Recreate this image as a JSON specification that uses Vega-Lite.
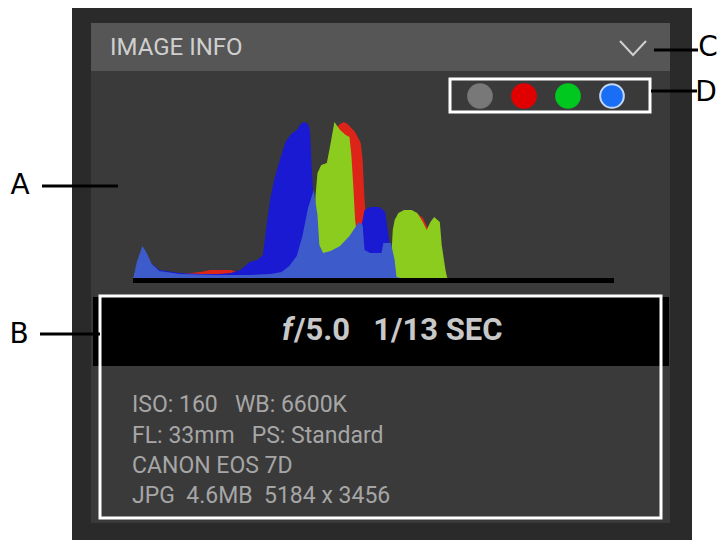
{
  "$schema": "https://vega.github.io/schema/vega-lite/v6.json",
  "width": 720,
  "height": 540,
  "autosize": "none",
  "padding": 0,
  "background": "#ffffff",
  "config": {"view": {"stroke": null}},
  "datasets": {
    "panels": [
      {"part": "outer", "x": 72, "x2": 692, "y": 8, "y2": 540},
      {"part": "inner", "x": 91, "x2": 670, "y": 23, "y2": 523},
      {"part": "header", "x": 91, "x2": 670, "y": 23, "y2": 71},
      {"part": "exposure", "x": 93, "x2": 669, "y": 297, "y2": 366}
    ],
    "frames": [
      {"callout": "B", "x": 100, "x2": 661, "y": 296, "y2": 518},
      {"callout": "D", "x": 450, "x2": 650, "y": 79, "y2": 112}
    ],
    "histogram": [
      {"channel": "red", "level": 0, "count": 0}, {"channel": "red", "level": 2, "count": 15}, {"channel": "red", "level": 5, "count": 30}, {"channel": "red", "level": 10, "count": 14}, {"channel": "red", "level": 14, "count": 7}, {"channel": "red", "level": 25, "count": 6}, {"channel": "red", "level": 36, "count": 8}, {"channel": "red", "level": 41, "count": 10}, {"channel": "red", "level": 52, "count": 10}, {"channel": "red", "level": 55, "count": 8}, {"channel": "red", "level": 60, "count": 5}, {"channel": "red", "level": 66, "count": 8}, {"channel": "red", "level": 89, "count": 6}, {"channel": "red", "level": 94, "count": 10}, {"channel": "red", "level": 98, "count": 30}, {"channel": "red", "level": 100, "count": 80}, {"channel": "red", "level": 103, "count": 118}, {"channel": "red", "level": 105, "count": 132}, {"channel": "red", "level": 107, "count": 150}, {"channel": "red", "level": 110, "count": 156}, {"channel": "red", "level": 112, "count": 158}, {"channel": "red", "level": 114, "count": 156}, {"channel": "red", "level": 116, "count": 152}, {"channel": "red", "level": 118, "count": 148}, {"channel": "red", "level": 121, "count": 137}, {"channel": "red", "level": 122, "count": 120}, {"channel": "red", "level": 123, "count": 80}, {"channel": "red", "level": 124, "count": 58}, {"channel": "red", "level": 129, "count": 57}, {"channel": "red", "level": 131, "count": 55}, {"channel": "red", "level": 133, "count": 35}, {"channel": "red", "level": 139, "count": 30}, {"channel": "red", "level": 142, "count": 40}, {"channel": "red", "level": 147, "count": 65}, {"channel": "red", "level": 150, "count": 68}, {"channel": "red", "level": 154, "count": 62}, {"channel": "red", "level": 156, "count": 54}, {"channel": "red", "level": 159, "count": 45}, {"channel": "red", "level": 163, "count": 30}, {"channel": "red", "level": 166, "count": 5}, {"channel": "red", "level": 168, "count": 0}, {"channel": "red", "level": 255, "count": 0},
      {"channel": "blue", "level": 0, "count": 0}, {"channel": "blue", "level": 2, "count": 16}, {"channel": "blue", "level": 5, "count": 31}, {"channel": "blue", "level": 9, "count": 18}, {"channel": "blue", "level": 14, "count": 10}, {"channel": "blue", "level": 25, "count": 7}, {"channel": "blue", "level": 36, "count": 6}, {"channel": "blue", "level": 46, "count": 6}, {"channel": "blue", "level": 52, "count": 7}, {"channel": "blue", "level": 57, "count": 10}, {"channel": "blue", "level": 62, "count": 18}, {"channel": "blue", "level": 66, "count": 20}, {"channel": "blue", "level": 69, "count": 25}, {"channel": "blue", "level": 71, "count": 55}, {"channel": "blue", "level": 73, "count": 82}, {"channel": "blue", "level": 75, "count": 100}, {"channel": "blue", "level": 78, "count": 120}, {"channel": "blue", "level": 81, "count": 138}, {"channel": "blue", "level": 84, "count": 146}, {"channel": "blue", "level": 87, "count": 150}, {"channel": "blue", "level": 89, "count": 156}, {"channel": "blue", "level": 91, "count": 158}, {"channel": "blue", "level": 93, "count": 156}, {"channel": "blue", "level": 94, "count": 150}, {"channel": "blue", "level": 95, "count": 110}, {"channel": "blue", "level": 96, "count": 80}, {"channel": "blue", "level": 97, "count": 30}, {"channel": "blue", "level": 99, "count": 10}, {"channel": "blue", "level": 105, "count": 12}, {"channel": "blue", "level": 110, "count": 15}, {"channel": "blue", "level": 115, "count": 22}, {"channel": "blue", "level": 118, "count": 30}, {"channel": "blue", "level": 121, "count": 50}, {"channel": "blue", "level": 123, "count": 70}, {"channel": "blue", "level": 126, "count": 73}, {"channel": "blue", "level": 131, "count": 73}, {"channel": "blue", "level": 134, "count": 68}, {"channel": "blue", "level": 136, "count": 40}, {"channel": "blue", "level": 138, "count": 10}, {"channel": "blue", "level": 140, "count": 2}, {"channel": "blue", "level": 142, "count": 1}, {"channel": "blue", "level": 255, "count": 1},
      {"channel": "green", "level": 0, "count": 0}, {"channel": "green", "level": 2, "count": 14}, {"channel": "green", "level": 5, "count": 28}, {"channel": "green", "level": 10, "count": 12}, {"channel": "green", "level": 14, "count": 6}, {"channel": "green", "level": 46, "count": 3}, {"channel": "green", "level": 90, "count": 3}, {"channel": "green", "level": 94, "count": 5}, {"channel": "green", "level": 96, "count": 40}, {"channel": "green", "level": 97, "count": 85}, {"channel": "green", "level": 98, "count": 107}, {"channel": "green", "level": 100, "count": 115}, {"channel": "green", "level": 103, "count": 117}, {"channel": "green", "level": 105, "count": 137}, {"channel": "green", "level": 107, "count": 158}, {"channel": "green", "level": 110, "count": 150}, {"channel": "green", "level": 113, "count": 145}, {"channel": "green", "level": 115, "count": 143}, {"channel": "green", "level": 116, "count": 125}, {"channel": "green", "level": 117, "count": 95}, {"channel": "green", "level": 118, "count": 60}, {"channel": "green", "level": 120, "count": 30}, {"channel": "green", "level": 122, "count": 18}, {"channel": "green", "level": 126, "count": 15}, {"channel": "green", "level": 132, "count": 12}, {"channel": "green", "level": 137, "count": 15}, {"channel": "green", "level": 138, "count": 50}, {"channel": "green", "level": 139, "count": 60}, {"channel": "green", "level": 141, "count": 67}, {"channel": "green", "level": 144, "count": 70}, {"channel": "green", "level": 148, "count": 70}, {"channel": "green", "level": 151, "count": 67}, {"channel": "green", "level": 154, "count": 58}, {"channel": "green", "level": 156, "count": 50}, {"channel": "green", "level": 158, "count": 58}, {"channel": "green", "level": 160, "count": 63}, {"channel": "green", "level": 163, "count": 58}, {"channel": "green", "level": 164, "count": 35}, {"channel": "green", "level": 166, "count": 10}, {"channel": "green", "level": 167, "count": 1}, {"channel": "green", "level": 168, "count": 0}, {"channel": "green", "level": 255, "count": 0},
      {"channel": "luminance", "level": 0, "count": 0}, {"channel": "luminance", "level": 2, "count": 18}, {"channel": "luminance", "level": 5, "count": 34}, {"channel": "luminance", "level": 7, "count": 28}, {"channel": "luminance", "level": 10, "count": 16}, {"channel": "luminance", "level": 14, "count": 9}, {"channel": "luminance", "level": 25, "count": 6}, {"channel": "luminance", "level": 46, "count": 5}, {"channel": "luminance", "level": 62, "count": 5}, {"channel": "luminance", "level": 73, "count": 6}, {"channel": "luminance", "level": 79, "count": 8}, {"channel": "luminance", "level": 83, "count": 14}, {"channel": "luminance", "level": 87, "count": 24}, {"channel": "luminance", "level": 90, "count": 44}, {"channel": "luminance", "level": 93, "count": 72}, {"channel": "luminance", "level": 96, "count": 90}, {"channel": "luminance", "level": 98, "count": 65}, {"channel": "luminance", "level": 99, "count": 35}, {"channel": "luminance", "level": 101, "count": 27}, {"channel": "luminance", "level": 105, "count": 29}, {"channel": "luminance", "level": 110, "count": 34}, {"channel": "luminance", "level": 115, "count": 44}, {"channel": "luminance", "level": 120, "count": 58}, {"channel": "luminance", "level": 122, "count": 55}, {"channel": "luminance", "level": 123, "count": 30}, {"channel": "luminance", "level": 126, "count": 27}, {"channel": "luminance", "level": 132, "count": 27}, {"channel": "luminance", "level": 133, "count": 37}, {"channel": "luminance", "level": 137, "count": 37}, {"channel": "luminance", "level": 139, "count": 20}, {"channel": "luminance", "level": 140, "count": 3}, {"channel": "luminance", "level": 142, "count": 2}, {"channel": "luminance", "level": 200, "count": 2}, {"channel": "luminance", "level": 255, "count": 2}
    ],
    "baseline": [{"part": "axis", "x": 133, "x2": 614, "y": 278, "y2": 283}],
    "swatches": [
      {"channel": "luminance", "x": 480, "y": 96},
      {"channel": "red", "x": 524, "y": 96},
      {"channel": "green", "x": 568, "y": 96},
      {"channel": "blue", "x": 612, "y": 96}
    ],
    "chevron": [
      {"step": 1, "x": 620, "y": 41},
      {"step": 2, "x": 633, "y": 55},
      {"step": 3, "x": 646, "y": 41}
    ],
    "leaders": [
      {"callout": "A", "x": 42, "x2": 118, "y": 186},
      {"callout": "B", "x": 40, "x2": 100, "y": 334},
      {"callout": "C", "x": 654, "x2": 698, "y": 50},
      {"callout": "D", "x": 651, "x2": 697, "y": 91}
    ],
    "callouts": [
      {"label": "A", "x": 20, "y": 186},
      {"label": "B", "x": 19, "y": 335},
      {"label": "C", "x": 708, "y": 48},
      {"label": "D", "x": 706, "y": 93}
    ],
    "header": [{"label": "IMAGE INFO", "x": 110, "y": 48}],
    "fnumber": [{"label": "f", "x": 282, "y": 331}],
    "exposure": [{"label": "/5.0\u00a0\u00a0\u00a01/13 SEC", "x": 294, "y": 331}],
    "info": [
      {"label": "ISO: 160\u00a0\u00a0\u00a0WB: 6600K", "x": 132, "y": 405},
      {"label": "FL: 33mm\u00a0\u00a0\u00a0PS: Standard", "x": 132, "y": 436},
      {"label": "CANON EOS 7D", "x": 132, "y": 466},
      {"label": "JPG\u00a0\u00a04.6MB\u00a0\u00a05184 x 3456", "x": 132, "y": 496}
    ]
  },
  "resolve": {"scale": {"x": "independent", "y": "independent", "color": "independent", "stroke": "independent"}},
  "layer": [
    {
      "data": {"name": "panels"},
      "mark": {"type": "rect"},
      "encoding": {
        "x": {"field": "x", "type": "quantitative", "scale": {"domain": [0, 720], "nice": false, "zero": false}, "axis": null},
        "x2": {"field": "x2"},
        "y": {"field": "y", "type": "quantitative", "scale": {"domain": [0, 540], "nice": false, "zero": false, "reverse": true}, "axis": null},
        "y2": {"field": "y2"},
        "color": {"field": "part", "type": "nominal", "legend": null, "scale": {"domain": ["outer", "inner", "header", "exposure"], "range": ["#2a2a2a", "#3a3a3a", "#565656", "#000000"]}}
      }
    },
    {
      "data": {"name": "histogram"},
      "layer": [
        {
          "transform": [{"filter": "datum.channel === 'red'"}],
          "mark": {"type": "area", "color": "#dd2418", "interpolate": "linear"},
          "encoding": {
            "x": {"field": "level", "type": "quantitative", "scale": {"domain": [0, 255], "range": [133, 613], "nice": false, "zero": false}, "axis": null},
            "y": {"field": "count", "type": "quantitative", "scale": {"domain": [0, 170], "range": [280, 110], "nice": false}, "axis": null}
          }
        },
        {
          "transform": [{"filter": "datum.channel === 'blue'"}],
          "mark": {"type": "area", "color": "#1a1ad2", "interpolate": "linear"},
          "encoding": {
            "x": {"field": "level", "type": "quantitative"},
            "y": {"field": "count", "type": "quantitative"}
          }
        },
        {
          "transform": [{"filter": "datum.channel === 'green'"}],
          "mark": {"type": "area", "color": "#8ccc1e", "interpolate": "linear"},
          "encoding": {
            "x": {"field": "level", "type": "quantitative"},
            "y": {"field": "count", "type": "quantitative"}
          }
        },
        {
          "transform": [{"filter": "datum.channel === 'luminance'"}],
          "mark": {"type": "area", "color": "#3d5bca", "interpolate": "linear"},
          "encoding": {
            "x": {"field": "level", "type": "quantitative"},
            "y": {"field": "count", "type": "quantitative"}
          }
        }
      ]
    },
    {
      "data": {"name": "baseline"},
      "mark": {"type": "rect", "color": "#000000"},
      "encoding": {
        "x": {"field": "x", "type": "quantitative", "scale": {"domain": [0, 720], "nice": false, "zero": false}, "axis": null},
        "x2": {"field": "x2"},
        "y": {"field": "y", "type": "quantitative", "scale": {"domain": [0, 540], "nice": false, "zero": false, "reverse": true}, "axis": null},
        "y2": {"field": "y2"}
      }
    },
    {
      "data": {"name": "frames"},
      "mark": {"type": "rect", "fill": null, "fillOpacity": 0, "stroke": "#ffffff", "strokeWidth": 3},
      "encoding": {
        "x": {"field": "x", "type": "quantitative", "scale": {"domain": [0, 720], "nice": false, "zero": false}, "axis": null},
        "x2": {"field": "x2"},
        "y": {"field": "y", "type": "quantitative", "scale": {"domain": [0, 540], "nice": false, "zero": false, "reverse": true}, "axis": null},
        "y2": {"field": "y2"}
      }
    },
    {
      "data": {"name": "swatches"},
      "mark": {"type": "point", "shape": "circle", "filled": true, "size": 560, "strokeWidth": 2, "opacity": 1},
      "encoding": {
        "x": {"field": "x", "type": "quantitative", "scale": {"domain": [0, 720], "nice": false, "zero": false}, "axis": null},
        "y": {"field": "y", "type": "quantitative", "scale": {"domain": [0, 540], "nice": false, "zero": false, "reverse": true}, "axis": null},
        "fill": {"field": "channel", "type": "nominal", "legend": null, "scale": {"domain": ["luminance", "red", "green", "blue"], "range": ["#787878", "#e00000", "#00c81e", "#1a6ef5"]}},
        "stroke": {"field": "channel", "type": "nominal", "legend": null, "scale": {"domain": ["luminance", "red", "green", "blue"], "range": ["#787878", "#e00000", "#00c81e", "#c4d8f5"]}}
      }
    },
    {
      "data": {"name": "chevron"},
      "mark": {"type": "line", "color": "#d0d0d0", "strokeWidth": 2},
      "encoding": {
        "x": {"field": "x", "type": "quantitative", "scale": {"domain": [0, 720], "nice": false, "zero": false}, "axis": null},
        "y": {"field": "y", "type": "quantitative", "scale": {"domain": [0, 540], "nice": false, "zero": false, "reverse": true}, "axis": null},
        "order": {"field": "step", "type": "quantitative"}
      }
    },
    {
      "data": {"name": "leaders"},
      "mark": {"type": "rule", "color": "#000000", "strokeWidth": 3},
      "encoding": {
        "x": {"field": "x", "type": "quantitative", "scale": {"domain": [0, 720], "nice": false, "zero": false}, "axis": null},
        "x2": {"field": "x2"},
        "y": {"field": "y", "type": "quantitative", "scale": {"domain": [0, 540], "nice": false, "zero": false, "reverse": true}, "axis": null}
      }
    },
    {
      "data": {"name": "callouts"},
      "mark": {"type": "text", "font": "DejaVu Sans", "fontSize": 28, "color": "#000000", "align": "center", "baseline": "middle"},
      "encoding": {
        "x": {"field": "x", "type": "quantitative", "scale": {"domain": [0, 720], "nice": false, "zero": false}, "axis": null},
        "y": {"field": "y", "type": "quantitative", "scale": {"domain": [0, 540], "nice": false, "zero": false, "reverse": true}, "axis": null},
        "text": {"field": "label"}
      }
    },
    {
      "data": {"name": "header"},
      "mark": {"type": "text", "font": "Roboto", "fontSize": 24, "color": "#cfcfcf", "align": "left", "baseline": "middle"},
      "encoding": {
        "x": {"field": "x", "type": "quantitative", "scale": {"domain": [0, 720], "nice": false, "zero": false}, "axis": null},
        "y": {"field": "y", "type": "quantitative", "scale": {"domain": [0, 540], "nice": false, "zero": false, "reverse": true}, "axis": null},
        "text": {"field": "label"}
      }
    },
    {
      "data": {"name": "fnumber"},
      "mark": {"type": "text", "font": "Roboto", "fontSize": 31, "fontWeight": "bold", "fontStyle": "italic", "color": "#c8c8c8", "align": "left", "baseline": "middle"},
      "encoding": {
        "x": {"field": "x", "type": "quantitative", "scale": {"domain": [0, 720], "nice": false, "zero": false}, "axis": null},
        "y": {"field": "y", "type": "quantitative", "scale": {"domain": [0, 540], "nice": false, "zero": false, "reverse": true}, "axis": null},
        "text": {"field": "label"}
      }
    },
    {
      "data": {"name": "exposure"},
      "mark": {"type": "text", "font": "Roboto", "fontSize": 31, "fontWeight": "bold", "color": "#c8c8c8", "align": "left", "baseline": "middle"},
      "encoding": {
        "x": {"field": "x", "type": "quantitative", "scale": {"domain": [0, 720], "nice": false, "zero": false}, "axis": null},
        "y": {"field": "y", "type": "quantitative", "scale": {"domain": [0, 540], "nice": false, "zero": false, "reverse": true}, "axis": null},
        "text": {"field": "label"}
      }
    },
    {
      "data": {"name": "info"},
      "mark": {"type": "text", "font": "Roboto", "fontSize": 23, "color": "#a6a6a6", "align": "left", "baseline": "middle"},
      "encoding": {
        "x": {"field": "x", "type": "quantitative", "scale": {"domain": [0, 720], "nice": false, "zero": false}, "axis": null},
        "y": {"field": "y", "type": "quantitative", "scale": {"domain": [0, 540], "nice": false, "zero": false, "reverse": true}, "axis": null},
        "text": {"field": "label"}
      }
    }
  ]
}
